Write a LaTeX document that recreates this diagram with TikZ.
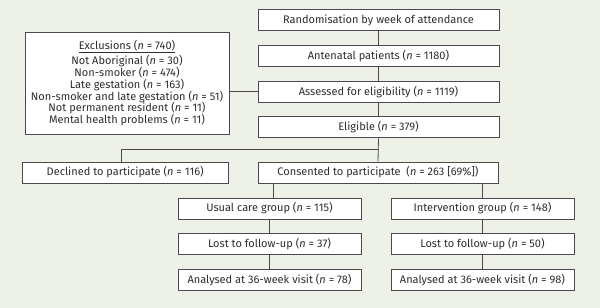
\documentclass[tikz,border=0pt]{standalone}
\usepackage{fontspec}
\setmainfont{Fira Sans}
\usepackage{tikz}
\usetikzlibrary{
  % relative placement of the boxes
  positioning,%
  calc
}
\definecolor{bgpanel}{HTML}{EDF1E7}
\definecolor{boxline}{HTML}{4A4A4A}
\definecolor{txtgray}{HTML}{2E2E2E}
\tikzset{flowbox/.style={draw=boxline, fill=white, line width=0.8pt,
  minimum height=21pt, inner sep=2pt, text=txtgray,
  font=\fontsize{11}{11.8}\selectfont}}
\tikzset{link/.style={draw=boxline, line width=0.8pt}}
\tikzset{node distance=14pt}
\newcommand{\ncount}[1]{(\textit{n} = #1)}

\begin{document}
\begin{tikzpicture}[x=1pt, y=1pt]
  \fill[bgpanel] (0,0) rectangle (600,308);
  \useasboundingbox (0,0) rectangle (600,308);
  % main column
  \node[flowbox, minimum width=241pt] (rand) at (378.5,288) {Randomisation by week of attendance};
  \node[flowbox, minimum width=241pt, below=of rand] (ante) {Antenatal patients \ncount{1180}};
  \node[flowbox, minimum width=241pt, below=of ante] (assess) {Assessed for eligibility \ncount{1119}};
  \node[flowbox, minimum width=241pt, below=of assess] (elig) {Eligible \ncount{379}};
  \node[flowbox, minimum width=204pt, minimum height=102pt, align=center] (excl) at (127,225)
    {\underline{Exclusions \ncount{740}}\\[1.5pt]
     Not Aboriginal \ncount{30}\\
     Non-smoker \ncount{474}\\
     Late gestation \ncount{163}\\
     Non-smoker and late gestation \ncount{51}\\
     Not permanent resident \ncount{11}\\
     Mental health problems \ncount{11}};
  \node[flowbox, minimum width=240pt] (consent) at (378,135.5) {Consented to participate~ \ncount{263 [69\%]}};
  \node[flowbox, minimum width=206pt, left=29pt of consent] (declined) {Declined to participate \ncount{116}};
  % the two arms
  \node[flowbox, minimum width=183pt] (usual) at (269.5,99.5) {Usual care group \ncount{115}};
  \node[flowbox, minimum width=183pt, below=of usual] (lostU) {Lost to follow-up \ncount{37}};
  \node[flowbox, minimum width=183pt, below=of lostU] (analU) {Analysed at 36-week visit \ncount{78}};
  \node[flowbox, minimum width=183pt] (interv) at (482.5,99.5) {Intervention group \ncount{148}};
  \node[flowbox, minimum width=183pt, below=of interv] (lostI) {Lost to follow-up \ncount{50}};
  \node[flowbox, minimum width=183pt, below=of lostI] (analI) {Analysed at 36-week visit \ncount{98}};
  % connectors
  \draw[link] (rand) -- (ante);
  \draw[link] (ante) -- (assess);
  \draw[link] (assess) -- (elig);
  \draw[link] (assess.west) -- (assess.west -| excl.east);
  \coordinate (split) at ($(elig.south)+(0,-11.5)$);
  \draw[link] (elig.south) -- (consent.north);
  \draw[link] (split) -| ([xshift=-4pt]declined.north);
  \draw[link] ([xshift=3.5pt]usual.north) -- ([xshift=3.5pt]usual.north |- consent.south);
  \draw[link] (interv.north) -- (interv.north |- consent.south);
  \draw[link] (usual) -- (lostU);
  \draw[link] (lostU) -- (analU);
  \draw[link] (interv) -- (lostI);
  \draw[link] (lostI) -- (analI);
\end{tikzpicture}
\end{document}
